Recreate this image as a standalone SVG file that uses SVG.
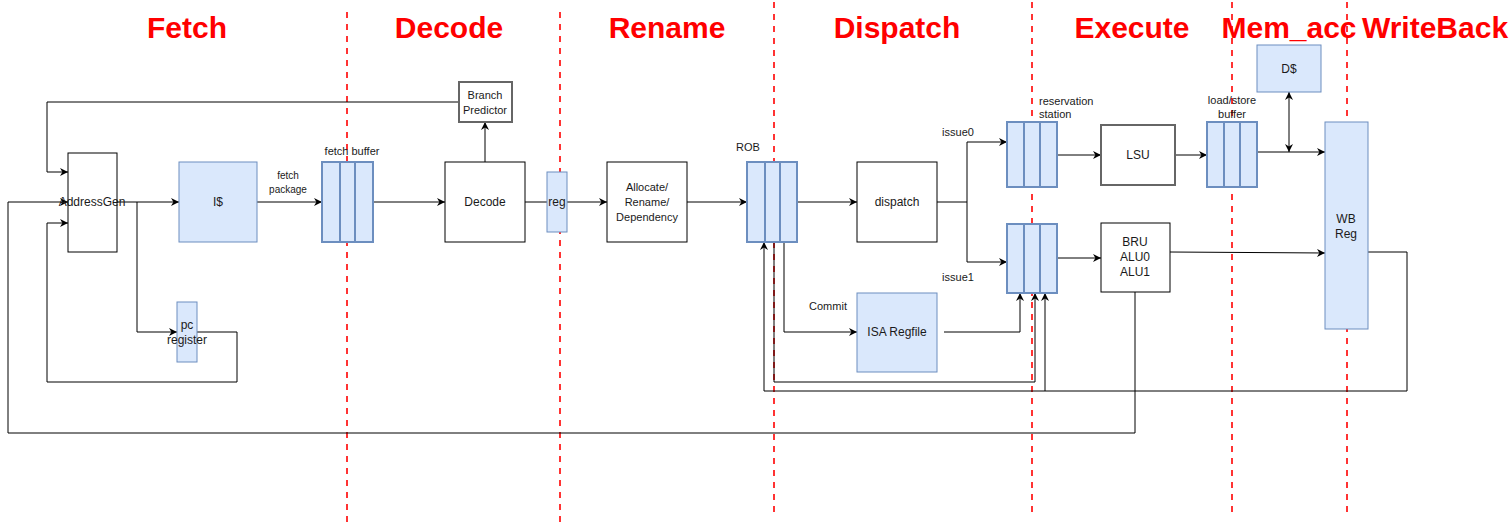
<svg xmlns="http://www.w3.org/2000/svg" width="1512" height="526" viewBox="0 0 1512 526">
<defs>
<marker id="arr" viewBox="0 0 10 10" refX="10" refY="5" markerWidth="9" markerHeight="8" markerUnits="userSpaceOnUse" orient="auto-start-reverse">
<path d="M0,0 L10,5 L0,10 L3,5 z" fill="#000"/>
</marker>
</defs>
<style>
text{font-family:"Liberation Sans",Arial,sans-serif;font-size:12px;fill:#1a1a1a;text-anchor:middle}
.title{font-size:30px;font-weight:bold;fill:#ff0000}
.small{font-size:10px}
.box{fill:#fff;stroke:#000;stroke-width:1}
.gbox{fill:#fff;stroke:#666;stroke-width:2}
.blue{fill:#dae8fc;stroke:#6c8ebf;stroke-width:1}
.buf{fill:#dae8fc;stroke:#6c8ebf;stroke-width:2}
.div{stroke:#6c8ebf;stroke-width:2}
.wire{fill:none;stroke:#000;stroke-width:1}
.arrow{marker-end:url(#arr)}
.stage{stroke:#ff3333;stroke-width:2;stroke-dasharray:6,6}
</style>

<g id="stage-lines">
<line class="stage" x1="347" y1="12" x2="347" y2="522"/>
<line class="stage" x1="560" y1="12" x2="560" y2="522"/>
<line class="stage" x1="774" y1="2" x2="774" y2="514"/>
<line class="stage" x1="1032" y1="2" x2="1032" y2="514"/>
<line class="stage" x1="1232" y1="2" x2="1232" y2="512"/>
<line class="stage" x1="1347" y1="2" x2="1347" y2="512"/>
</g>

<g id="titles">
<text class="title" x="187" y="38">Fetch</text>
<text class="title" x="449" y="38">Decode</text>
<text class="title" x="667" y="38">Rename</text>
<text class="title" x="897" y="38">Dispatch</text>
<text class="title" x="1132" y="38">Execute</text>
<text class="title" x="1289" y="38">Mem_acc</text>
<text class="title" x="1435" y="38">WriteBack</text>
</g>

<g id="connectors">
<polyline class="wire arrow" points="459,102 47,102 47,172 68,172"/>
<polyline class="wire arrow" points="485,162 485,122"/>
<polyline class="wire arrow" points="197,332 237,332 237,382 47,382 47,223 68,223"/>
<polyline class="wire arrow" points="117,202 179,202"/>
<polyline class="wire arrow" points="137,202 137,332 177,332"/>
<polyline class="wire arrow" points="1135,292 1135,433 8,433 8,202 68,202"/>
<polyline class="wire arrow" points="257,202 322,202"/>
<polyline class="wire arrow" points="373,202 445,202"/>
<polyline class="wire" points="525,202 547,202"/>
<polyline class="wire arrow" points="567,202 607,202"/>
<polyline class="wire arrow" points="687,202 747,202"/>
<polyline class="wire arrow" points="797,202 857,202"/>
<polyline class="wire" points="937,202 967,202"/>
<polyline class="wire arrow" points="967,202 967,142 1007,142"/>
<polyline class="wire arrow" points="967,202 967,262 1007,262"/>
<polyline class="wire arrow" points="784,242 784,332 857,332"/>
<polyline class="wire arrow" points="944,332 1020,332 1020,293"/>
<polyline class="wire arrow" points="774,242 774,382 1035,382 1035,293"/>
<polyline class="wire arrow" points="1368,252 1407,252 1407,391 764,391 764,242"/>
<polyline class="wire arrow" points="1045,391 1045,293"/>
<polyline class="wire arrow" points="1057,155 1101,155"/>
<polyline class="wire arrow" points="1057,258 1101,258"/>
<polyline class="wire arrow" points="1175,155 1207,155"/>
<polyline class="wire arrow" points="1257,152 1325,152"/>
<line class="wire" x1="1289" y1="92" x2="1289" y2="152" marker-start="url(#arr)" marker-end="url(#arr)"/>
<polyline class="wire arrow" points="1170,252 1325,253"/>
</g>

<g id="addressgen">
<rect class="box" x="68" y="153" width="49" height="99"/>
<text x="92" y="206">AddressGen</text>
</g>
<g id="icache">
<rect class="blue" x="179" y="162" width="78" height="80"/>
<text x="218" y="206">I$</text>
</g>
<g id="fetch-package-label">
<text class="small" x="288" y="179">fetch</text>
<text class="small" x="288" y="193">package</text>
</g>
<g id="fetch-buffer">
<rect class="buf" x="322" y="162" width="51" height="80"/>
<line class="div" x1="340" y1="162" x2="340" y2="242"/>
<line class="div" x1="355" y1="162" x2="355" y2="242"/>
<text x="352" y="155" style="font-size:11px">fetch buffer</text>
</g>
<g id="pc-register">
<rect class="blue" x="177" y="302" width="20" height="60"/>
<text x="187" y="329">pc</text>
<text x="187" y="344">register</text>
</g>
<g id="branch-predictor">
<rect class="gbox" x="459" y="82" width="53" height="40"/>
<text x="485" y="99" style="font-size:11px">Branch</text>
<text x="485" y="114" style="font-size:11px">Predictor</text>
</g>
<g id="decode">
<rect class="box" x="445" y="162" width="80" height="80"/>
<text x="485" y="206">Decode</text>
</g>
<g id="reg">
<rect class="blue" x="547" y="172" width="20" height="60"/>
<text x="557" y="206">reg</text>
</g>
<g id="allocate">
<rect class="box" x="607" y="162" width="80" height="80"/>
<text x="647" y="191" style="font-size:11px">Allocate/</text>
<text x="647" y="206" style="font-size:11px">Rename/</text>
<text x="647" y="221" style="font-size:11px">Dependency</text>
</g>
<g id="rob">
<rect class="buf" x="747" y="162" width="50" height="80"/>
<line class="div" x1="765" y1="162" x2="765" y2="242"/>
<line class="div" x1="780" y1="162" x2="780" y2="242"/>
<text x="748" y="151" style="font-size:11px">ROB</text>
</g>
<g id="dispatch">
<rect class="box" x="857" y="162" width="80" height="80"/>
<text x="897" y="206">dispatch</text>
</g>
<g id="isa-regfile">
<rect class="blue" x="857" y="293" width="80" height="79"/>
<text x="897" y="336">ISA Regfile</text>
</g>
<g id="labels">
<text x="958" y="136" style="font-size:11px">issue0</text>
<text x="958" y="281" style="font-size:11px">issue1</text>
<text x="828" y="310" style="font-size:11px">Commit</text>
</g>
<g id="rs0">
<rect class="buf" x="1007" y="122" width="50" height="65"/>
<line class="div" x1="1024" y1="122" x2="1024" y2="187"/>
<line class="div" x1="1040" y1="122" x2="1040" y2="187"/>
<text x="1039" y="105" style="font-size:11px;text-anchor:start">reservation</text>
<text x="1039" y="118" style="font-size:11px;text-anchor:start">station</text>
</g>
<g id="rs1">
<rect class="buf" x="1007" y="224" width="50" height="69"/>
<line class="div" x1="1024" y1="224" x2="1024" y2="293"/>
<line class="div" x1="1040" y1="224" x2="1040" y2="293"/>
</g>
<g id="lsu">
<rect class="gbox" x="1101" y="125" width="74" height="60"/>
<text x="1138" y="159">LSU</text>
</g>
<g id="bru">
<rect class="box" x="1101" y="223" width="69" height="69"/>
<text x="1135" y="246">BRU</text>
<text x="1135" y="261">ALU0</text>
<text x="1135" y="276">ALU1</text>
</g>
<g id="ls-buffer">
<rect class="buf" x="1207" y="122" width="50" height="65"/>
<line class="div" x1="1224" y1="122" x2="1224" y2="187"/>
<line class="div" x1="1240" y1="122" x2="1240" y2="187"/>
<text x="1232" y="104" style="font-size:11px">load/store</text>
<text x="1232" y="118" style="font-size:11px">buffer</text>
</g>
<g id="dcache">
<rect class="blue" x="1257" y="45" width="64" height="47"/>
<text x="1289" y="73">D$</text>
</g>
<g id="wb-reg">
<rect class="blue" x="1325" y="122" width="43" height="207"/>
<text x="1346" y="223">WB</text>
<text x="1346" y="238">Reg</text>
</g>
</svg>
